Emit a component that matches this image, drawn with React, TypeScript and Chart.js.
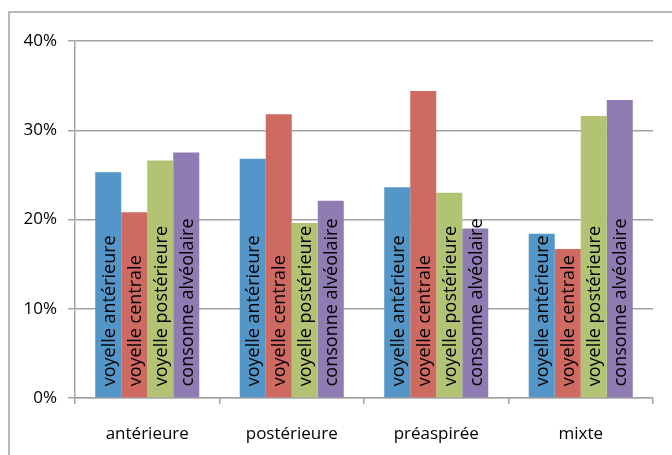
import React, { useEffect, useRef } from "react";
import { Chart, registerables } from "chart.js";

Chart.register(...registerables);

const categories = ["antérieure", "postérieure", "préaspirée", "mixte"];
const seriesNames = ["voyelle antérieure", "voyelle centrale", "voyelle postérieure", "consonne alvéolaire"];
const voyelleAnterieure = [25.3, 26.8, 23.6, 18.4];
const voyelleCentrale = [20.8, 31.8, 34.4, 16.7];
const voyellePosterieure = [26.6, 19.6, 23.0, 31.6];
const consonneAlveolaire = [27.5, 22.1, 19.0, 33.4];
const seriesColors = ["#5596C9", "#CF6A62", "#B2C374", "#8F7CB3"];
const yTicks = [0, 10, 20, 30, 40];

const FONT = "'Open Sans', sans-serif";
const GRID = "#a3a3a3";

// Series name written upward inside each bar, starting near its base
const barNamePlugin = {
  id: "barNames",
  afterDatasetsDraw(chart: any) {
    const ctx = chart.ctx;
    ctx.save();
    ctx.font = `18px ${FONT}`;
    ctx.fillStyle = "#000";
    ctx.textAlign = "left";
    ctx.textBaseline = "middle";
    chart.data.datasets.forEach((ds: any, i: number) => {
      const meta = chart.getDatasetMeta(i);
      meta.data.forEach((bar: any) => {
        ctx.save();
        ctx.translate(bar.x + 1.5, bar.base - 11);
        ctx.rotate(-Math.PI / 2);
        ctx.fillText(ds.label, 0, 0);
        ctx.restore();
      });
    });
    ctx.restore();
  },
};

// Frame around the chart
const framePlugin = {
  id: "frame",
  beforeDraw(chart: any) {
    const ctx = chart.ctx;
    ctx.save();
    ctx.fillStyle = "#fff";
    ctx.fillRect(0, 0, chart.width, chart.height);
    ctx.strokeStyle = GRID;
    ctx.lineWidth = 1.5;
    ctx.beginPath();
    ctx.moveTo(9, chart.height);
    ctx.lineTo(9, 12);
    ctx.lineTo(chart.width, 12);
    ctx.stroke();
    ctx.restore();
  },
};

export default function App() {
  const canvasRef = useRef<HTMLCanvasElement>(null);

  useEffect(() => {
    const values = [voyelleAnterieure, voyelleCentrale, voyellePosterieure, consonneAlveolaire];
    const chart = new Chart(canvasRef.current!, {
      type: "bar",
      data: {
        labels: categories,
        datasets: seriesNames.map((name, i) => ({
          label: name,
          data: values[i],
          backgroundColor: seriesColors[i],
          borderWidth: 0,
          barPercentage: 1,
          categoryPercentage: 0.72,
        })),
      },
      options: {
        responsive: false,
        animation: false,
        layout: { padding: { top: 41, right: 19, left: 0, bottom: 0 } },
        plugins: {
          legend: { display: false },
          tooltip: { enabled: false },
        },
        scales: {
          x: {
            grid: {
              display: true,
              offset: true,
              drawOnChartArea: false,
              drawTicks: true,
              tickLength: 6,
              color: GRID,
              lineWidth: 1.5,
            },
            border: { display: true, color: GRID, width: 1.5 },
            ticks: {
              color: "#000",
              font: { family: FONT, size: 17 },
              padding: 20,
              maxRotation: 0,
            },
            afterFit(scale: any) {
              scale.height = 57;
            },
          },
          y: {
            min: 0,
            max: 40,
            afterBuildTicks(scale: any) {
              scale.ticks = yTicks.map((v) => ({ value: v }));
            },
            grid: {
              color: GRID,
              lineWidth: 1.5,
              drawTicks: true,
              tickLength: 7,
            },
            border: { display: true, color: GRID, width: 1.5 },
            ticks: {
              color: "#000",
              font: { family: FONT, size: 17 },
              padding: 11,
              callback: (v: any) => `${v}%`,
            },
            afterFit(scale: any) {
              scale.width = 75;
            },
          },
        },
      },
      plugins: [framePlugin, barNamePlugin],
    });
    return () => chart.destroy();
  }, []);

  return (
    <div style={{ position: "fixed", left: 0, top: 0, width: 672, height: 455 }}>
      <canvas ref={canvasRef} width={672} height={455} style={{ display: "block" }} />
    </div>
  );
}
